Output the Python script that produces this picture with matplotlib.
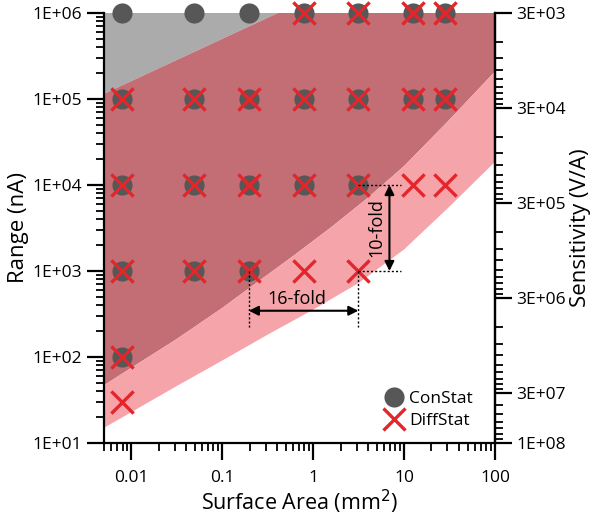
import matplotlib
matplotlib.use('Agg')
import matplotlib.pyplot as plt
from matplotlib.lines import Line2D
from matplotlib.ticker import FixedLocator, NullFormatter, LogLocator, FixedFormatter

plt.rcParams['font.family'] = ['Open Sans', 'DejaVu Sans']

# ---- data ----
areas = [0.00785, 0.0491, 0.196, 0.785, 3.14, 12.57, 28.27]

con_x = areas + areas + areas[:5] + areas[:3] + areas[:1]
con_y = [1e6] * 7 + [1e5] * 7 + [1e4] * 5 + [1e3] * 3 + [1e2]

diff_x = areas[3:] + areas + areas + areas[:5] + areas[:1] + areas[:1]
diff_y = [1e6] * 4 + [1e5] * 7 + [1e4] * 7 + [1e3] * 5 + [1e2] + [30]

# shaded region boundaries
xmin, xmax = 0.005, 100
ymin, ymax = 10, 1e6
gray_edge_x = [xmin, 0.41]
gray_edge_y = [1.15e5, 1e6]

dark_low_x = [0.005, 0.0316, 0.1, 0.251, 0.631, 1.585, 3.98, 10, 31.6, 100]
dark_low_y = [47, 162, 372, 760, 1550, 3240, 7080, 16600, 57500, 209000]

pink_low_x = [0.005, 0.0316, 0.1, 0.316, 1, 3.16, 10, 31.6, 100]
pink_low_y = [15, 46, 91, 182, 355, 725, 1780, 5620, 18600]

sens_ticks = [3e3, 3e4, 3e5, 3e6, 3e7, 1e8]
sens_labels = ['3E+03', '3E+04', '3E+05', '3E+06', '3E+07', '1E+08']
range_ticks = [1e1, 1e2, 1e3, 1e4, 1e5, 1e6]
range_labels = ['1E+01', '1E+02', '1E+03', '1E+04', '1E+05', '1E+06']
area_ticks = [0.01, 0.1, 1, 10, 100]
area_labels = ['0.01', '0.1', '1', '10', '100']

C_GRAY = '#ababab'
C_DARK = '#c26e74'
C_PINK = '#f5a4aa'
C_CIRC = '#575757'
C_X = '#e3262c'

fig = plt.figure(figsize=(6.0, 5.18), dpi=100)
ax = fig.add_axes([0.1733, 0.1448, 0.6517, 0.8301])
ax.set_xscale('log')
ax.set_yscale('log')
ax.set_xlim(xmin, xmax)
ax.set_ylim(ymin, ymax)

# gray region
ax.fill([xmin] + gray_edge_x + [xmin], [ymax] + gray_edge_y + [ymax],
        color=C_GRAY, lw=0, zorder=1)
# dark red region
dx = gray_edge_x + [xmax] + dark_low_x[::-1]
dy = gray_edge_y + [ymax] + dark_low_y[::-1]
ax.fill(dx, dy, color=C_DARK, lw=0, zorder=2)
# pink region
px = dark_low_x + pink_low_x[::-1]
py = dark_low_y + pink_low_y[::-1]
ax.fill(px, py, color=C_PINK, lw=0, zorder=2)

ax.scatter(con_x, con_y, s=14.5 ** 2, color=C_CIRC, lw=0, zorder=5, clip_on=False)
ax.scatter(diff_x, diff_y, s=16 ** 2, marker='x', color=C_X, lw=2.4, zorder=6, clip_on=False)

# annotations
dot = dict(color='black', ls=(0, (1.5, 1.5)), lw=1.0, zorder=7)
ax.plot([areas[2], areas[2]], [1e3, 225], **dot)
ax.plot([areas[4], areas[4]], [1e3, 225], **dot)
ax.plot([areas[4], 9.3], [1e4, 1e4], **dot)
ax.plot([areas[4], 9.3], [1e3, 1e3], **dot)
arrowprops = dict(arrowstyle='<|-|>', color='black', lw=1.5, mutation_scale=14,
                  shrinkA=0, shrinkB=0)
ax.annotate('', xy=(areas[2], 345), xytext=(areas[4], 345), arrowprops=arrowprops, zorder=8)
ax.annotate('', xy=(6.9, 1e4), xytext=(6.9, 1e3), arrowprops=arrowprops, zorder=8)
ax.text(0.66, 470, '16-fold', ha='center', va='center', fontsize=13, zorder=8)
ax.text(5.0, 3.2e3, '10-fold', ha='center', va='center', rotation=90, fontsize=13, zorder=8)

# axes styling
for s in ['left', 'bottom', 'right']:
    ax.spines[s].set_linewidth(1.6)
ax.spines['top'].set_visible(False)
ax.xaxis.set_major_locator(FixedLocator(area_ticks))
ax.xaxis.set_major_formatter(FixedFormatter(area_labels))
ax.xaxis.set_minor_locator(LogLocator(base=10, subs=range(2, 10), numticks=20))
ax.xaxis.set_minor_formatter(NullFormatter())
ax.yaxis.set_major_locator(FixedLocator(range_ticks))
ax.yaxis.set_major_formatter(FixedFormatter(range_labels))
ax.yaxis.set_minor_locator(LogLocator(base=10, subs=range(2, 10), numticks=20))
ax.yaxis.set_minor_formatter(NullFormatter())
ax.tick_params(which='major', direction='out', length=12.5, width=1.6, labelsize=12.5)
ax.tick_params(which='minor', direction='out', length=6, width=1.3)
ax.tick_params(axis='x', which='major', pad=7)
ax.tick_params(axis='y', which='major', pad=3)
ax.set_xlabel('Surface Area (mm$^2$)', fontsize=15.5, labelpad=1)
ax.set_ylabel('Range (nA)', fontsize=16, labelpad=3)

ax2 = ax.twinx()
ax2.set_yscale('log')
ax2.set_ylim(1e8, 3e3)
for s in ['left', 'bottom', 'top']:
    ax2.spines[s].set_visible(False)
ax2.spines['right'].set_linewidth(1.6)
ax2.yaxis.set_major_locator(FixedLocator(sens_ticks))
ax2.yaxis.set_major_formatter(FixedFormatter(sens_labels))
sens_minor = [m * k for m in [3e3, 3e4, 3e5, 3e6] for k in range(2, 10)] + \
             [k * 1e7 for k in range(4, 10)]
ax2.yaxis.set_minor_locator(FixedLocator(sens_minor))
ax2.yaxis.set_minor_formatter(NullFormatter())
ax2.tick_params(which='major', direction='out', length=12.5, width=1.6, labelsize=12.5, pad=3)
ax2.tick_params(which='minor', direction='out', length=6, width=1.3)
ax2.set_ylabel('Sensitivity (V/A)', fontsize=16, labelpad=3)

handles = [Line2D([], [], ls='none', marker='o', ms=14.5, color=C_CIRC, mec='none'),
           Line2D([], [], ls='none', marker='x', ms=16, color=C_X, mew=2.4)]
ax.legend(handles, ['ConStat', 'DiffStat'], loc='lower right', bbox_to_anchor=(0.975, 0.005),
          frameon=False, fontsize=12.5, handletextpad=0.3, labelspacing=0.3,
          borderpad=0.2, handlelength=1.2)

fig.savefig('out.png', dpi=100)
